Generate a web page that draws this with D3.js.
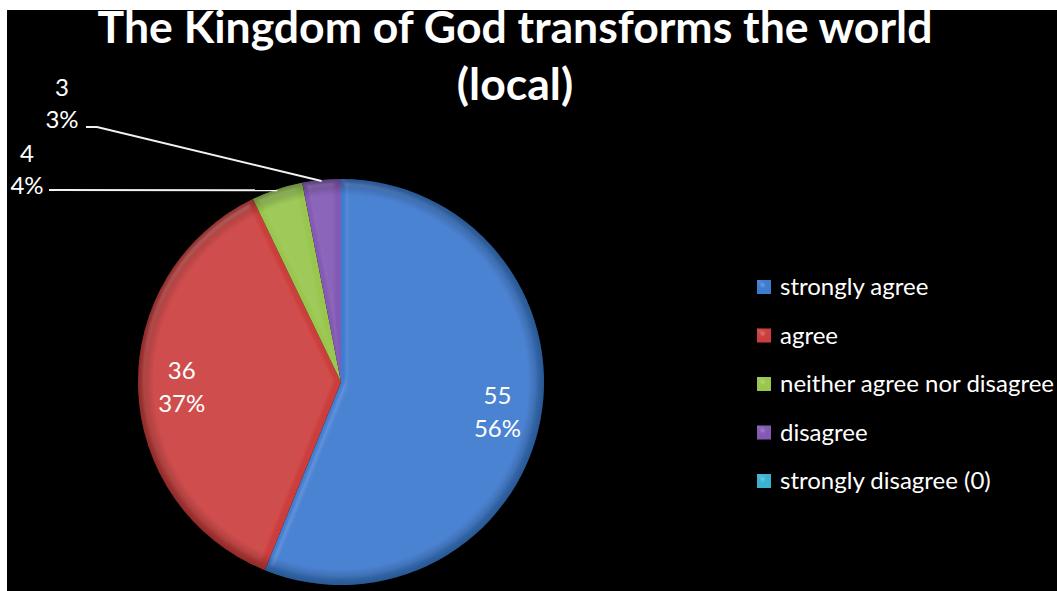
<!DOCTYPE html>
<html>
<head>
<meta charset="utf-8">
<script src="https://cdn.jsdelivr.net/npm/d3@7"></script>
<style>
  html, body { margin: 0; padding: 0; background: #fff; }
  svg { display: block; }
  text { font-family: Lato, "Open Sans", sans-serif; }
</style>
</head>
<body>
<svg id="chart" width="1057" height="591"></svg>
<script>
// Survey answers to "The Kingdom of God transforms the world (local)"
const titleLines = ["The Kingdom of God transforms the world", "(local)"];
const categories = ["strongly agree", "agree", "neither agree nor disagree", "disagree", "strongly disagree (0)"];
const counts = [55, 36, 4, 3, 0];
const colors = ["#3a7ccf", "#cc3e3c", "#99c64e", "#8459b5", "#38b2cf"];

const W = 1057, H = 591;
const svg = d3.select("#chart");

// Plot area (black panel)
const panel = { x: 7, y: 10, w: W - 7, h: H - 10 };
svg.append("rect")
  .attr("x", panel.x).attr("y", panel.y)
  .attr("width", panel.w).attr("height", panel.h)
  .attr("fill", "#000");

const defs = svg.append("defs");
defs.append("clipPath").attr("id", "panelClip")
  .append("rect").attr("x", panel.x).attr("y", panel.y)
  .attr("width", panel.w).attr("height", panel.h);

// Soft bevel for slices and legend keys
const bevel = defs.append("filter").attr("id", "bevel")
  .attr("x", "-5%").attr("y", "-5%").attr("width", "110%").attr("height", "110%");
bevel.append("feGaussianBlur").attr("in", "SourceAlpha").attr("stdDeviation", 3).attr("result", "blur");
const spec = bevel.append("feSpecularLighting")
  .attr("in", "blur").attr("surfaceScale", 4).attr("specularConstant", 0.5)
  .attr("specularExponent", 22).attr("lighting-color", "#ffffff").attr("result", "spec");
spec.append("feDistantLight").attr("azimuth", 235).attr("elevation", 50);
bevel.append("feComposite").attr("in", "spec").attr("in2", "SourceAlpha")
  .attr("operator", "in").attr("result", "specIn");
bevel.append("feComposite").attr("in", "SourceGraphic").attr("in2", "specIn")
  .attr("operator", "arithmetic").attr("k1", 0).attr("k2", 1).attr("k3", 0.22).attr("k4", 0);

// Rim shading across the pie
const rim = defs.append("radialGradient").attr("id", "rim")
  .attr("cx", "50%").attr("cy", "50%").attr("r", "50%");
rim.append("stop").attr("offset", "92%").attr("stop-color", "#000").attr("stop-opacity", 0);
rim.append("stop").attr("offset", "100%").attr("stop-color", "#000").attr("stop-opacity", 0.3);

const root = svg.append("g").attr("clip-path", "url(#panelClip)");

// Title
const title = root.append("g").attr("fill", "#fff")
  .attr("font-weight", 700).attr("text-anchor", "middle");
const tSize = 41;
titleLines.forEach((line, i) => {
  title.append("text")
    .attr("x", 515).attr("y", 43 + i * 57)
    .attr("font-size", tSize)
    .text(line);
});
// Scale the title so the first line spans its full width
{
  const first = title.select("text").node();
  const len = first.getComputedTextLength();
  const k = 835 / len;
  title.selectAll("text").attr("font-size", tSize * k);
}

// Pie
const cx = 341, cy = 382, R = 203;
const total = d3.sum(counts);
const data = categories.map((c, i) => ({ category: c, value: counts[i], color: colors[i] }));
const pie = d3.pie().value(d => d.value).sort(null);
const arcs = pie(data).filter(a => a.value > 0);
const arc = d3.arc().innerRadius(0).outerRadius(R);

const pieG = root.append("g").attr("transform", `translate(${cx},${cy})`);
pieG.selectAll("path.slice").data(arcs).join("path")
  .attr("class", "slice")
  .attr("d", arc)
  .attr("fill", d => d.data.color)
  .attr("filter", "url(#bevel)");
pieG.append("circle").attr("r", R).attr("fill", "url(#rim)").attr("pointer-events", "none");

const pct = v => Math.round(v / total * 100) + "%";
const labelArc = d3.arc().innerRadius(R * 0.785).outerRadius(R * 0.785);
const lblSize = 24;

// Large slices: labels inside
arcs.filter(a => a.value / total > 0.1).forEach(a => {
  const [x, y] = labelArc.centroid(a);
  const t = pieG.append("text").attr("fill", "#fff").attr("font-size", lblSize)
    .attr("text-anchor", "middle");
  t.append("tspan").attr("x", x).attr("y", y - 8).text(a.value);
  t.append("tspan").attr("x", x).attr("y", y + 25).text(pct(a.value));
});

// Small slices: labels outside with leader lines (label offsets from the pie centre)
const outside = {
  "disagree": { lx: 62 - cx, ly: 96 - cy, elbow: [97 - cx, 127 - cy], start: [86 - cx, 127 - cy] },
  "neither agree nor disagree": { lx: 27 - cx, ly: 162 - cy, elbow: null, start: [49 - cx, 190 - cy] }
};
arcs.filter(a => a.value / total <= 0.1).forEach(a => {
  const o = outside[a.data.category];
  const mid = (a.startAngle + a.endAngle) / 2;
  const ex = Math.sin(mid) * (R - 1), ey = -Math.cos(mid) * (R - 1);
  const pts = [o.start];
  if (o.elbow) pts.push(o.elbow);
  pts.push([ex, ey]);
  pieG.append("path")
    .attr("d", d3.line()(pts))
    .attr("fill", "none").attr("stroke", "#f2f2f2").attr("stroke-width", 2);
  const t = pieG.append("text").attr("fill", "#fff").attr("font-size", lblSize)
    .attr("text-anchor", "middle");
  t.append("tspan").attr("x", o.lx).attr("y", o.ly).text(a.value);
  t.append("tspan").attr("x", o.lx).attr("y", o.ly + 32).text(pct(a.value));
});

// Legend
const legend = root.append("g").attr("transform", "translate(757,287)");
const rowH = 48.5;
const item = legend.selectAll("g.item").data(data).join("g")
  .attr("class", "item")
  .attr("transform", (d, i) => `translate(0,${i * rowH})`);
item.append("rect")
  .attr("x", 0).attr("y", -7).attr("width", 14).attr("height", 14)
  .attr("fill", d => d.color).attr("filter", "url(#bevel)");
item.append("text")
  .attr("x", 23).attr("y", 0).attr("dy", "0.35em")
  .attr("fill", "#fff").attr("font-size", lblSize)
  .text(d => d.category);
</script>
</body>
</html>
